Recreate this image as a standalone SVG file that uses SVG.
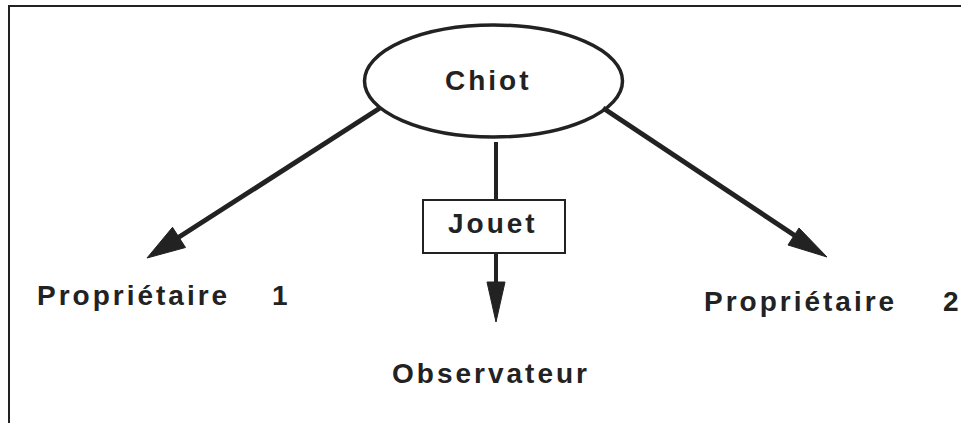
<svg xmlns="http://www.w3.org/2000/svg" width="961" height="423" viewBox="0 0 961 423">
<style>
text{font-family:"Liberation Sans",Arial,sans-serif;font-weight:bold;font-size:28px;letter-spacing:3px;fill:#222}
.ln{stroke:#222;fill:none}
.ah{fill:#222;stroke:#222;stroke-width:1;stroke-linejoin:miter}
</style>
<rect width="961" height="423" fill="#fff"/>
<g id="frame">
<path class="ln" stroke-width="2" d="M9,423 V6 H961"/>
</g>
<g id="connectors">
<line class="ln" stroke-width="5" x1="380" y1="108" x2="176" y2="239"/>
<polygon class="ah" points="147,258 185.5,247.5 172.5,227.3"/>
<line class="ln" stroke-width="5" x1="603" y1="108" x2="797" y2="237"/>
<polygon class="ah" points="827,257 799,228 788,245"/>
<line class="ln" stroke-width="4" x1="496" y1="142" x2="496" y2="200"/>
<line class="ln" stroke-width="4" x1="496" y1="253" x2="496" y2="284"/>
<polygon class="ah" points="487,282 505,282 496,322"/>
</g>
<g id="chiot">
<ellipse class="ln" stroke-width="3.5" cx="493.5" cy="81" rx="129" ry="56"/>
<text x="445" y="90">Chiot</text>
</g>
<g id="jouet">
<rect class="ln" stroke-width="2" x="423" y="200" width="142" height="53" fill="#fff"/>
<text x="448" y="233">Jouet</text>
</g>
<g id="proprietaire1">
<text x="37" y="305">Propriétaire <tspan x="272">1</tspan></text>
</g>
<g id="proprietaire2">
<text x="704" y="311">Propriétaire <tspan x="943">2</tspan></text>
</g>
<g id="observateur">
<text x="392" y="383">Observateur</text>
</g>
</svg>
